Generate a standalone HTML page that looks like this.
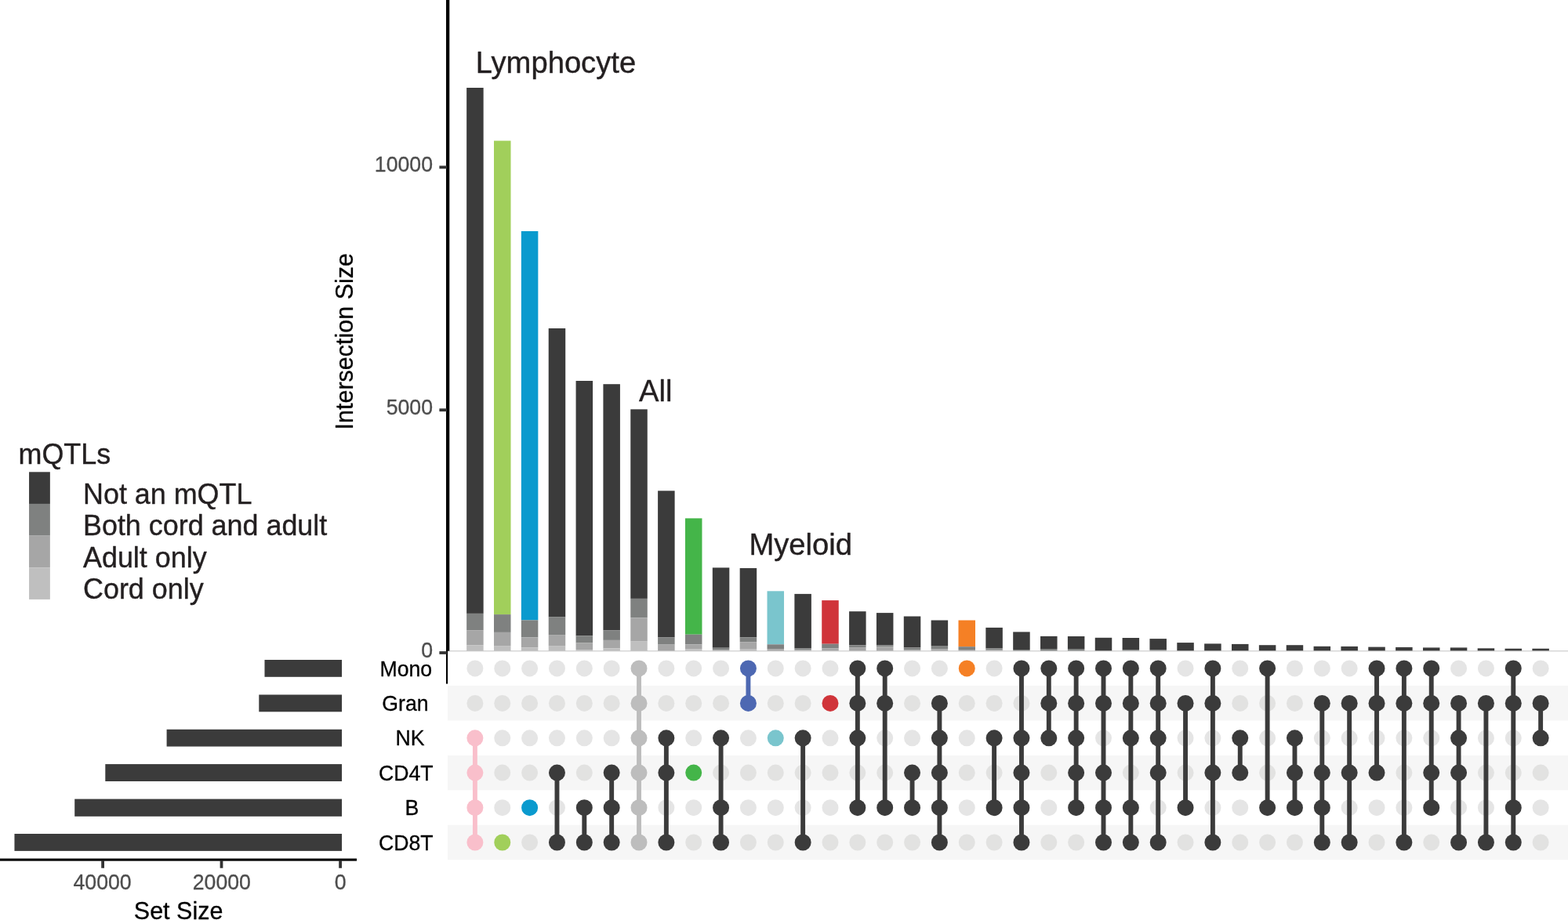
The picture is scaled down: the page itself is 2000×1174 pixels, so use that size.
<!DOCTYPE html>
<html lang="en">
<head>
<meta charset="utf-8">
<title>UpSet plot - intersection sizes by cell type and mQTL status</title>
<style>
html, body { margin: 0; padding: 0; background: #ffffff; }
body { width: 2000px; height: 1174px; overflow: hidden; font-family: "Liberation Sans", Arial, Helvetica, sans-serif; }
svg { display: block; }
</style>
</head>
<body>
<svg role="img" aria-label="UpSet plot of intersection sizes" width="2000" height="1174" viewBox="0 0 2000 1174" font-family='"Liberation Sans", Arial, Helvetica, sans-serif'>
<rect x="0" y="0" width="2000" height="1174" fill="#ffffff"/>
<g id="stripes" fill="#f6f6f6">
<rect x="571" y="875.1" width="1429" height="44.40"/>
<rect x="571" y="964.0" width="1429" height="44.30"/>
<rect x="571" y="1052.8" width="1429" height="44.40"/>
</g>
<g id="bars" shape-rendering="geometricPrecision">
<rect x="595.15" y="112.00" width="21.5" height="670.90" fill="#3b3b3b"/>
<rect x="595.15" y="782.90" width="21.5" height="21.30" fill="#7f8180"/>
<rect x="595.15" y="804.20" width="21.5" height="19.00" fill="#a6a6a6"/>
<rect x="595.15" y="823.20" width="21.5" height="7.60" fill="#bfbfbf"/>
<rect x="630.00" y="179.60" width="21.5" height="604.50" fill="#a1cf5b"/>
<rect x="630.00" y="784.10" width="21.5" height="22.80" fill="#7f8180"/>
<rect x="630.00" y="806.90" width="21.5" height="17.20" fill="#a6a6a6"/>
<rect x="630.00" y="824.10" width="21.5" height="6.70" fill="#bfbfbf"/>
<rect x="664.85" y="295.00" width="21.5" height="496.40" fill="#0a9ace"/>
<rect x="664.85" y="791.40" width="21.5" height="21.90" fill="#7f8180"/>
<rect x="664.85" y="813.30" width="21.5" height="13.00" fill="#a6a6a6"/>
<rect x="664.85" y="826.30" width="21.5" height="4.50" fill="#bfbfbf"/>
<rect x="699.71" y="419.00" width="21.5" height="368.50" fill="#3b3b3b"/>
<rect x="699.71" y="787.50" width="21.5" height="22.60" fill="#7f8180"/>
<rect x="699.71" y="810.10" width="21.5" height="14.00" fill="#a6a6a6"/>
<rect x="699.71" y="824.10" width="21.5" height="6.70" fill="#bfbfbf"/>
<rect x="734.56" y="486.00" width="21.5" height="325.40" fill="#3b3b3b"/>
<rect x="734.56" y="811.40" width="21.5" height="9.10" fill="#7f8180"/>
<rect x="734.56" y="820.50" width="21.5" height="8.70" fill="#a6a6a6"/>
<rect x="734.56" y="829.20" width="21.5" height="1.60" fill="#bfbfbf"/>
<rect x="769.41" y="490.20" width="21.5" height="314.00" fill="#3b3b3b"/>
<rect x="769.41" y="804.20" width="21.5" height="12.70" fill="#7f8180"/>
<rect x="769.41" y="816.90" width="21.5" height="10.40" fill="#a6a6a6"/>
<rect x="769.41" y="827.30" width="21.5" height="3.50" fill="#bfbfbf"/>
<rect x="804.26" y="522.30" width="21.5" height="241.60" fill="#3b3b3b"/>
<rect x="804.26" y="763.90" width="21.5" height="24.40" fill="#7f8180"/>
<rect x="804.26" y="788.30" width="21.5" height="30.30" fill="#a6a6a6"/>
<rect x="804.26" y="818.60" width="21.5" height="12.20" fill="#bfbfbf"/>
<rect x="839.11" y="626.30" width="21.5" height="186.90" fill="#3b3b3b"/>
<rect x="839.11" y="813.20" width="21.5" height="9.40" fill="#7f8180"/>
<rect x="839.11" y="822.60" width="21.5" height="8.20" fill="#a6a6a6"/>
<rect x="873.97" y="661.40" width="21.5" height="148.30" fill="#44b549"/>
<rect x="873.97" y="809.70" width="21.5" height="12.60" fill="#7f8180"/>
<rect x="873.97" y="822.30" width="21.5" height="5.90" fill="#a6a6a6"/>
<rect x="873.97" y="828.20" width="21.5" height="2.60" fill="#bfbfbf"/>
<rect x="908.82" y="724.40" width="21.5" height="102.30" fill="#3b3b3b"/>
<rect x="908.82" y="826.70" width="21.5" height="2.50" fill="#7f8180"/>
<rect x="908.82" y="829.20" width="21.5" height="1.60" fill="#a6a6a6"/>
<rect x="943.67" y="725.00" width="21.5" height="88.40" fill="#3b3b3b"/>
<rect x="943.67" y="813.40" width="21.5" height="5.80" fill="#7f8180"/>
<rect x="943.67" y="819.20" width="21.5" height="8.80" fill="#a6a6a6"/>
<rect x="943.67" y="828.00" width="21.5" height="2.80" fill="#bfbfbf"/>
<rect x="978.52" y="754.30" width="21.5" height="68.00" fill="#7ac5cd"/>
<rect x="978.52" y="822.30" width="21.5" height="5.90" fill="#7f8180"/>
<rect x="978.52" y="828.20" width="21.5" height="2.60" fill="#a6a6a6"/>
<rect x="1013.37" y="757.90" width="21.5" height="69.40" fill="#3b3b3b"/>
<rect x="1013.37" y="827.30" width="21.5" height="2.00" fill="#7f8180"/>
<rect x="1013.37" y="829.30" width="21.5" height="1.50" fill="#a6a6a6"/>
<rect x="1048.23" y="766.10" width="21.5" height="55.60" fill="#d0343a"/>
<rect x="1048.23" y="821.70" width="21.5" height="5.60" fill="#7f8180"/>
<rect x="1048.23" y="827.30" width="21.5" height="3.50" fill="#a6a6a6"/>
<rect x="1083.08" y="780.20" width="21.5" height="43.00" fill="#3b3b3b"/>
<rect x="1083.08" y="823.20" width="21.5" height="2.90" fill="#7f8180"/>
<rect x="1083.08" y="826.10" width="21.5" height="4.70" fill="#a6a6a6"/>
<rect x="1117.93" y="782.10" width="21.5" height="41.10" fill="#3b3b3b"/>
<rect x="1117.93" y="823.20" width="21.5" height="2.30" fill="#7f8180"/>
<rect x="1117.93" y="825.50" width="21.5" height="5.30" fill="#a6a6a6"/>
<rect x="1152.78" y="786.50" width="21.5" height="39.70" fill="#3b3b3b"/>
<rect x="1152.78" y="826.20" width="21.5" height="3.00" fill="#7f8180"/>
<rect x="1152.78" y="829.20" width="21.5" height="1.60" fill="#a6a6a6"/>
<rect x="1187.63" y="791.50" width="21.5" height="32.50" fill="#3b3b3b"/>
<rect x="1187.63" y="824.00" width="21.5" height="4.20" fill="#7f8180"/>
<rect x="1187.63" y="828.20" width="21.5" height="2.60" fill="#a6a6a6"/>
<rect x="1222.49" y="791.50" width="21.5" height="33.70" fill="#f58025"/>
<rect x="1222.49" y="825.20" width="21.5" height="3.80" fill="#7f8180"/>
<rect x="1222.49" y="829.00" width="21.5" height="1.80" fill="#a6a6a6"/>
<rect x="1257.34" y="800.90" width="21.5" height="26.40" fill="#3b3b3b"/>
<rect x="1257.34" y="827.30" width="21.5" height="2.30" fill="#7f8180"/>
<rect x="1257.34" y="829.60" width="21.5" height="1.20" fill="#a6a6a6"/>
<rect x="1292.19" y="806.40" width="21.5" height="22.60" fill="#3b3b3b"/>
<rect x="1292.19" y="829.00" width="21.5" height="1.80" fill="#7f8180"/>
<rect x="1327.04" y="811.90" width="21.5" height="16.10" fill="#3b3b3b"/>
<rect x="1327.04" y="828.00" width="21.5" height="2.80" fill="#7f8180"/>
<rect x="1361.89" y="812.00" width="21.5" height="16.00" fill="#3b3b3b"/>
<rect x="1361.89" y="828.00" width="21.5" height="2.80" fill="#7f8180"/>
<rect x="1396.75" y="813.80" width="21.5" height="17.00" fill="#3b3b3b"/>
<rect x="1431.60" y="814.00" width="21.5" height="15.50" fill="#3b3b3b"/>
<rect x="1431.60" y="829.50" width="21.5" height="1.30" fill="#7f8180"/>
<rect x="1466.45" y="815.10" width="21.5" height="14.10" fill="#3b3b3b"/>
<rect x="1466.45" y="829.20" width="21.5" height="1.60" fill="#7f8180"/>
<rect x="1501.30" y="820.10" width="21.5" height="10.70" fill="#3b3b3b"/>
<rect x="1536.15" y="821.40" width="21.5" height="9.40" fill="#3b3b3b"/>
<rect x="1571.01" y="821.90" width="21.5" height="8.90" fill="#3b3b3b"/>
<rect x="1605.86" y="823.20" width="21.5" height="7.60" fill="#3b3b3b"/>
<rect x="1640.71" y="823.20" width="21.5" height="7.60" fill="#3b3b3b"/>
<rect x="1675.56" y="824.80" width="21.5" height="6.00" fill="#3b3b3b"/>
<rect x="1710.41" y="824.90" width="21.5" height="5.90" fill="#3b3b3b"/>
<rect x="1745.27" y="825.60" width="21.5" height="5.20" fill="#3b3b3b"/>
<rect x="1780.12" y="825.90" width="21.5" height="4.90" fill="#3b3b3b"/>
<rect x="1814.97" y="826.40" width="21.5" height="4.40" fill="#3b3b3b"/>
<rect x="1849.82" y="826.40" width="21.5" height="4.40" fill="#3b3b3b"/>
<rect x="1884.67" y="827.30" width="21.5" height="3.50" fill="#3b3b3b"/>
<rect x="1919.53" y="827.70" width="21.5" height="3.10" fill="#3b3b3b"/>
<rect x="1954.38" y="827.70" width="21.5" height="3.10" fill="#3b3b3b"/>
</g>
<rect x="573" y="830.3" width="1427" height="1" fill="#c4c4c4"/>
<rect x="569" y="0" width="4.3" height="830.7" fill="#000000"/>
<rect x="569" y="830" width="2.1" height="42.6" fill="#000000"/>
<rect x="560.4" y="211.50" width="9.6" height="3.8" fill="#333333"/>
<rect x="560.4" y="521.30" width="9.6" height="3.8" fill="#333333"/>
<rect x="560.4" y="831.10" width="9.6" height="3.8" fill="#333333"/>
<g font-size="26.67" fill="#4d4d4d" stroke="#4d4d4d" stroke-width="0.3" stroke-linejoin="round" text-anchor="end">
<text transform="translate(552 218.9) scale(1 1.02)">10000</text>
<text transform="translate(552 528.8) scale(1 1.02)">5000</text>
<text transform="translate(552 838.9) scale(1 1.02)">0</text>
</g>
<text transform="translate(450.1 435.7) rotate(-90) scale(1 1.015)" font-size="30.5" fill="#000000" stroke="#000000" stroke-width="0.3" stroke-linejoin="round" text-anchor="middle">Intersection Size</text>
<g font-size="38.2" fill="#231f20" stroke="#231f20" stroke-width="0.4" stroke-linejoin="round">
<text transform="translate(606.7 93.1) scale(1 1.015)">Lymphocyte</text>
<text transform="translate(815.1 512.2) scale(1 1.015)">All</text>
<text transform="translate(955.4 708.1) scale(1 1.015)">Myeloid</text>
</g>
<g id="dots-empty">
<circle cx="605.90" cy="852.9" r="10.5" fill="#e5e5e5"/>
<circle cx="605.90" cy="897.45" r="10.5" fill="#e2e2e1"/>
<circle cx="640.75" cy="852.9" r="10.5" fill="#e5e5e5"/>
<circle cx="640.75" cy="897.45" r="10.5" fill="#e2e2e1"/>
<circle cx="640.75" cy="941.8" r="10.5" fill="#e5e5e5"/>
<circle cx="640.75" cy="986.1" r="10.5" fill="#e2e2e1"/>
<circle cx="640.75" cy="1030.65" r="10.5" fill="#e5e5e5"/>
<circle cx="675.60" cy="852.9" r="10.5" fill="#e5e5e5"/>
<circle cx="675.60" cy="897.45" r="10.5" fill="#e2e2e1"/>
<circle cx="675.60" cy="941.8" r="10.5" fill="#e5e5e5"/>
<circle cx="675.60" cy="986.1" r="10.5" fill="#e2e2e1"/>
<circle cx="675.60" cy="1075.0" r="10.5" fill="#e2e2e1"/>
<circle cx="710.46" cy="852.9" r="10.5" fill="#e5e5e5"/>
<circle cx="710.46" cy="897.45" r="10.5" fill="#e2e2e1"/>
<circle cx="710.46" cy="941.8" r="10.5" fill="#e5e5e5"/>
<circle cx="710.46" cy="1030.65" r="10.5" fill="#e5e5e5"/>
<circle cx="745.31" cy="852.9" r="10.5" fill="#e5e5e5"/>
<circle cx="745.31" cy="897.45" r="10.5" fill="#e2e2e1"/>
<circle cx="745.31" cy="941.8" r="10.5" fill="#e5e5e5"/>
<circle cx="745.31" cy="986.1" r="10.5" fill="#e2e2e1"/>
<circle cx="780.16" cy="852.9" r="10.5" fill="#e5e5e5"/>
<circle cx="780.16" cy="897.45" r="10.5" fill="#e2e2e1"/>
<circle cx="780.16" cy="941.8" r="10.5" fill="#e5e5e5"/>
<circle cx="849.86" cy="852.9" r="10.5" fill="#e5e5e5"/>
<circle cx="849.86" cy="897.45" r="10.5" fill="#e2e2e1"/>
<circle cx="849.86" cy="1030.65" r="10.5" fill="#e5e5e5"/>
<circle cx="884.72" cy="852.9" r="10.5" fill="#e5e5e5"/>
<circle cx="884.72" cy="897.45" r="10.5" fill="#e2e2e1"/>
<circle cx="884.72" cy="941.8" r="10.5" fill="#e5e5e5"/>
<circle cx="884.72" cy="1030.65" r="10.5" fill="#e5e5e5"/>
<circle cx="884.72" cy="1075.0" r="10.5" fill="#e2e2e1"/>
<circle cx="919.57" cy="852.9" r="10.5" fill="#e5e5e5"/>
<circle cx="919.57" cy="897.45" r="10.5" fill="#e2e2e1"/>
<circle cx="919.57" cy="986.1" r="10.5" fill="#e2e2e1"/>
<circle cx="954.42" cy="941.8" r="10.5" fill="#e5e5e5"/>
<circle cx="954.42" cy="986.1" r="10.5" fill="#e2e2e1"/>
<circle cx="954.42" cy="1030.65" r="10.5" fill="#e5e5e5"/>
<circle cx="954.42" cy="1075.0" r="10.5" fill="#e2e2e1"/>
<circle cx="989.27" cy="852.9" r="10.5" fill="#e5e5e5"/>
<circle cx="989.27" cy="897.45" r="10.5" fill="#e2e2e1"/>
<circle cx="989.27" cy="986.1" r="10.5" fill="#e2e2e1"/>
<circle cx="989.27" cy="1030.65" r="10.5" fill="#e5e5e5"/>
<circle cx="989.27" cy="1075.0" r="10.5" fill="#e2e2e1"/>
<circle cx="1024.12" cy="852.9" r="10.5" fill="#e5e5e5"/>
<circle cx="1024.12" cy="897.45" r="10.5" fill="#e2e2e1"/>
<circle cx="1024.12" cy="986.1" r="10.5" fill="#e2e2e1"/>
<circle cx="1024.12" cy="1030.65" r="10.5" fill="#e5e5e5"/>
<circle cx="1058.98" cy="852.9" r="10.5" fill="#e5e5e5"/>
<circle cx="1058.98" cy="941.8" r="10.5" fill="#e5e5e5"/>
<circle cx="1058.98" cy="986.1" r="10.5" fill="#e2e2e1"/>
<circle cx="1058.98" cy="1030.65" r="10.5" fill="#e5e5e5"/>
<circle cx="1058.98" cy="1075.0" r="10.5" fill="#e2e2e1"/>
<circle cx="1093.83" cy="986.1" r="10.5" fill="#e2e2e1"/>
<circle cx="1093.83" cy="1075.0" r="10.5" fill="#e2e2e1"/>
<circle cx="1128.68" cy="941.8" r="10.5" fill="#e5e5e5"/>
<circle cx="1128.68" cy="986.1" r="10.5" fill="#e2e2e1"/>
<circle cx="1128.68" cy="1075.0" r="10.5" fill="#e2e2e1"/>
<circle cx="1163.53" cy="852.9" r="10.5" fill="#e5e5e5"/>
<circle cx="1163.53" cy="897.45" r="10.5" fill="#e2e2e1"/>
<circle cx="1163.53" cy="941.8" r="10.5" fill="#e5e5e5"/>
<circle cx="1163.53" cy="1075.0" r="10.5" fill="#e2e2e1"/>
<circle cx="1198.38" cy="852.9" r="10.5" fill="#e5e5e5"/>
<circle cx="1233.24" cy="897.45" r="10.5" fill="#e2e2e1"/>
<circle cx="1233.24" cy="941.8" r="10.5" fill="#e5e5e5"/>
<circle cx="1233.24" cy="986.1" r="10.5" fill="#e2e2e1"/>
<circle cx="1233.24" cy="1030.65" r="10.5" fill="#e5e5e5"/>
<circle cx="1233.24" cy="1075.0" r="10.5" fill="#e2e2e1"/>
<circle cx="1268.09" cy="852.9" r="10.5" fill="#e5e5e5"/>
<circle cx="1268.09" cy="897.45" r="10.5" fill="#e2e2e1"/>
<circle cx="1268.09" cy="986.1" r="10.5" fill="#e2e2e1"/>
<circle cx="1268.09" cy="1075.0" r="10.5" fill="#e2e2e1"/>
<circle cx="1302.94" cy="897.45" r="10.5" fill="#e2e2e1"/>
<circle cx="1337.79" cy="986.1" r="10.5" fill="#e2e2e1"/>
<circle cx="1337.79" cy="1030.65" r="10.5" fill="#e5e5e5"/>
<circle cx="1337.79" cy="1075.0" r="10.5" fill="#e2e2e1"/>
<circle cx="1372.64" cy="1075.0" r="10.5" fill="#e2e2e1"/>
<circle cx="1407.50" cy="941.8" r="10.5" fill="#e5e5e5"/>
<circle cx="1442.35" cy="986.1" r="10.5" fill="#e2e2e1"/>
<circle cx="1477.20" cy="1030.65" r="10.5" fill="#e5e5e5"/>
<circle cx="1512.05" cy="852.9" r="10.5" fill="#e5e5e5"/>
<circle cx="1512.05" cy="941.8" r="10.5" fill="#e5e5e5"/>
<circle cx="1512.05" cy="986.1" r="10.5" fill="#e2e2e1"/>
<circle cx="1512.05" cy="1075.0" r="10.5" fill="#e2e2e1"/>
<circle cx="1546.90" cy="941.8" r="10.5" fill="#e5e5e5"/>
<circle cx="1546.90" cy="1030.65" r="10.5" fill="#e5e5e5"/>
<circle cx="1581.76" cy="852.9" r="10.5" fill="#e5e5e5"/>
<circle cx="1581.76" cy="897.45" r="10.5" fill="#e2e2e1"/>
<circle cx="1581.76" cy="1030.65" r="10.5" fill="#e5e5e5"/>
<circle cx="1581.76" cy="1075.0" r="10.5" fill="#e2e2e1"/>
<circle cx="1616.61" cy="897.45" r="10.5" fill="#e2e2e1"/>
<circle cx="1616.61" cy="941.8" r="10.5" fill="#e5e5e5"/>
<circle cx="1616.61" cy="986.1" r="10.5" fill="#e2e2e1"/>
<circle cx="1616.61" cy="1075.0" r="10.5" fill="#e2e2e1"/>
<circle cx="1651.46" cy="852.9" r="10.5" fill="#e5e5e5"/>
<circle cx="1651.46" cy="897.45" r="10.5" fill="#e2e2e1"/>
<circle cx="1651.46" cy="1075.0" r="10.5" fill="#e2e2e1"/>
<circle cx="1686.31" cy="852.9" r="10.5" fill="#e5e5e5"/>
<circle cx="1686.31" cy="941.8" r="10.5" fill="#e5e5e5"/>
<circle cx="1721.16" cy="852.9" r="10.5" fill="#e5e5e5"/>
<circle cx="1721.16" cy="941.8" r="10.5" fill="#e5e5e5"/>
<circle cx="1721.16" cy="1030.65" r="10.5" fill="#e5e5e5"/>
<circle cx="1756.02" cy="941.8" r="10.5" fill="#e5e5e5"/>
<circle cx="1756.02" cy="1030.65" r="10.5" fill="#e5e5e5"/>
<circle cx="1756.02" cy="1075.0" r="10.5" fill="#e2e2e1"/>
<circle cx="1790.87" cy="941.8" r="10.5" fill="#e5e5e5"/>
<circle cx="1790.87" cy="986.1" r="10.5" fill="#e2e2e1"/>
<circle cx="1790.87" cy="1030.65" r="10.5" fill="#e5e5e5"/>
<circle cx="1825.72" cy="941.8" r="10.5" fill="#e5e5e5"/>
<circle cx="1825.72" cy="1075.0" r="10.5" fill="#e2e2e1"/>
<circle cx="1860.57" cy="852.9" r="10.5" fill="#e5e5e5"/>
<circle cx="1860.57" cy="1030.65" r="10.5" fill="#e5e5e5"/>
<circle cx="1895.42" cy="852.9" r="10.5" fill="#e5e5e5"/>
<circle cx="1895.42" cy="941.8" r="10.5" fill="#e5e5e5"/>
<circle cx="1895.42" cy="986.1" r="10.5" fill="#e2e2e1"/>
<circle cx="1895.42" cy="1030.65" r="10.5" fill="#e5e5e5"/>
<circle cx="1930.28" cy="941.8" r="10.5" fill="#e5e5e5"/>
<circle cx="1930.28" cy="986.1" r="10.5" fill="#e2e2e1"/>
<circle cx="1965.13" cy="852.9" r="10.5" fill="#e5e5e5"/>
<circle cx="1965.13" cy="986.1" r="10.5" fill="#e2e2e1"/>
<circle cx="1965.13" cy="1030.65" r="10.5" fill="#e5e5e5"/>
<circle cx="1965.13" cy="1075.0" r="10.5" fill="#e2e2e1"/>
</g>
<g id="dots-on">
<rect x="602.95" y="941.8" width="5.9" height="133.20" fill="#f9bfcb"/>
<circle cx="605.90" cy="941.8" r="10.5" fill="#f9bfcb"/>
<circle cx="605.90" cy="986.1" r="10.5" fill="#f9bfcb"/>
<circle cx="605.90" cy="1030.65" r="10.5" fill="#f9bfcb"/>
<circle cx="605.90" cy="1075.0" r="10.5" fill="#f9bfcb"/>
<circle cx="640.75" cy="1075.0" r="10.5" fill="#a1cf5b"/>
<circle cx="675.60" cy="1030.65" r="10.5" fill="#0a9ace"/>
<rect x="707.51" y="986.1" width="5.9" height="88.90" fill="#3b3b3b"/>
<circle cx="710.46" cy="986.1" r="10.5" fill="#3b3b3b"/>
<circle cx="710.46" cy="1075.0" r="10.5" fill="#3b3b3b"/>
<rect x="742.36" y="1030.65" width="5.9" height="44.35" fill="#3b3b3b"/>
<circle cx="745.31" cy="1030.65" r="10.5" fill="#3b3b3b"/>
<circle cx="745.31" cy="1075.0" r="10.5" fill="#3b3b3b"/>
<rect x="777.21" y="986.1" width="5.9" height="88.90" fill="#3b3b3b"/>
<circle cx="780.16" cy="986.1" r="10.5" fill="#3b3b3b"/>
<circle cx="780.16" cy="1030.65" r="10.5" fill="#3b3b3b"/>
<circle cx="780.16" cy="1075.0" r="10.5" fill="#3b3b3b"/>
<rect x="812.06" y="852.9" width="5.9" height="222.10" fill="#bdbdbd"/>
<circle cx="815.01" cy="852.9" r="10.5" fill="#bdbdbd"/>
<circle cx="815.01" cy="897.45" r="10.5" fill="#bdbdbd"/>
<circle cx="815.01" cy="941.8" r="10.5" fill="#bdbdbd"/>
<circle cx="815.01" cy="986.1" r="10.5" fill="#bdbdbd"/>
<circle cx="815.01" cy="1030.65" r="10.5" fill="#bdbdbd"/>
<circle cx="815.01" cy="1075.0" r="10.5" fill="#bdbdbd"/>
<rect x="846.91" y="941.8" width="5.9" height="133.20" fill="#3b3b3b"/>
<circle cx="849.86" cy="941.8" r="10.5" fill="#3b3b3b"/>
<circle cx="849.86" cy="986.1" r="10.5" fill="#3b3b3b"/>
<circle cx="849.86" cy="1075.0" r="10.5" fill="#3b3b3b"/>
<circle cx="884.72" cy="986.1" r="10.5" fill="#44b549"/>
<rect x="916.62" y="941.8" width="5.9" height="133.20" fill="#3b3b3b"/>
<circle cx="919.57" cy="941.8" r="10.5" fill="#3b3b3b"/>
<circle cx="919.57" cy="1030.65" r="10.5" fill="#3b3b3b"/>
<circle cx="919.57" cy="1075.0" r="10.5" fill="#3b3b3b"/>
<rect x="951.47" y="852.9" width="5.9" height="44.55" fill="#4d68b2"/>
<circle cx="954.42" cy="852.9" r="10.5" fill="#4d68b2"/>
<circle cx="954.42" cy="897.45" r="10.5" fill="#4d68b2"/>
<circle cx="989.27" cy="941.8" r="10.5" fill="#7ac5cd"/>
<rect x="1021.17" y="941.8" width="5.9" height="133.20" fill="#3b3b3b"/>
<circle cx="1024.12" cy="941.8" r="10.5" fill="#3b3b3b"/>
<circle cx="1024.12" cy="1075.0" r="10.5" fill="#3b3b3b"/>
<circle cx="1058.98" cy="897.45" r="10.5" fill="#d0343a"/>
<rect x="1090.88" y="852.9" width="5.9" height="177.75" fill="#3b3b3b"/>
<circle cx="1093.83" cy="852.9" r="10.5" fill="#3b3b3b"/>
<circle cx="1093.83" cy="897.45" r="10.5" fill="#3b3b3b"/>
<circle cx="1093.83" cy="941.8" r="10.5" fill="#3b3b3b"/>
<circle cx="1093.83" cy="1030.65" r="10.5" fill="#3b3b3b"/>
<rect x="1125.73" y="852.9" width="5.9" height="177.75" fill="#3b3b3b"/>
<circle cx="1128.68" cy="852.9" r="10.5" fill="#3b3b3b"/>
<circle cx="1128.68" cy="897.45" r="10.5" fill="#3b3b3b"/>
<circle cx="1128.68" cy="1030.65" r="10.5" fill="#3b3b3b"/>
<rect x="1160.58" y="986.1" width="5.9" height="44.55" fill="#3b3b3b"/>
<circle cx="1163.53" cy="986.1" r="10.5" fill="#3b3b3b"/>
<circle cx="1163.53" cy="1030.65" r="10.5" fill="#3b3b3b"/>
<rect x="1195.43" y="897.45" width="5.9" height="177.55" fill="#3b3b3b"/>
<circle cx="1198.38" cy="897.45" r="10.5" fill="#3b3b3b"/>
<circle cx="1198.38" cy="941.8" r="10.5" fill="#3b3b3b"/>
<circle cx="1198.38" cy="986.1" r="10.5" fill="#3b3b3b"/>
<circle cx="1198.38" cy="1030.65" r="10.5" fill="#3b3b3b"/>
<circle cx="1198.38" cy="1075.0" r="10.5" fill="#3b3b3b"/>
<circle cx="1233.24" cy="852.9" r="10.5" fill="#f58025"/>
<rect x="1265.14" y="941.8" width="5.9" height="88.85" fill="#3b3b3b"/>
<circle cx="1268.09" cy="941.8" r="10.5" fill="#3b3b3b"/>
<circle cx="1268.09" cy="1030.65" r="10.5" fill="#3b3b3b"/>
<rect x="1299.99" y="852.9" width="5.9" height="222.10" fill="#3b3b3b"/>
<circle cx="1302.94" cy="852.9" r="10.5" fill="#3b3b3b"/>
<circle cx="1302.94" cy="941.8" r="10.5" fill="#3b3b3b"/>
<circle cx="1302.94" cy="986.1" r="10.5" fill="#3b3b3b"/>
<circle cx="1302.94" cy="1030.65" r="10.5" fill="#3b3b3b"/>
<circle cx="1302.94" cy="1075.0" r="10.5" fill="#3b3b3b"/>
<rect x="1334.84" y="852.9" width="5.9" height="88.90" fill="#3b3b3b"/>
<circle cx="1337.79" cy="852.9" r="10.5" fill="#3b3b3b"/>
<circle cx="1337.79" cy="897.45" r="10.5" fill="#3b3b3b"/>
<circle cx="1337.79" cy="941.8" r="10.5" fill="#3b3b3b"/>
<rect x="1369.69" y="852.9" width="5.9" height="177.75" fill="#3b3b3b"/>
<circle cx="1372.64" cy="852.9" r="10.5" fill="#3b3b3b"/>
<circle cx="1372.64" cy="897.45" r="10.5" fill="#3b3b3b"/>
<circle cx="1372.64" cy="941.8" r="10.5" fill="#3b3b3b"/>
<circle cx="1372.64" cy="986.1" r="10.5" fill="#3b3b3b"/>
<circle cx="1372.64" cy="1030.65" r="10.5" fill="#3b3b3b"/>
<rect x="1404.55" y="852.9" width="5.9" height="222.10" fill="#3b3b3b"/>
<circle cx="1407.50" cy="852.9" r="10.5" fill="#3b3b3b"/>
<circle cx="1407.50" cy="897.45" r="10.5" fill="#3b3b3b"/>
<circle cx="1407.50" cy="986.1" r="10.5" fill="#3b3b3b"/>
<circle cx="1407.50" cy="1030.65" r="10.5" fill="#3b3b3b"/>
<circle cx="1407.50" cy="1075.0" r="10.5" fill="#3b3b3b"/>
<rect x="1439.40" y="852.9" width="5.9" height="222.10" fill="#3b3b3b"/>
<circle cx="1442.35" cy="852.9" r="10.5" fill="#3b3b3b"/>
<circle cx="1442.35" cy="897.45" r="10.5" fill="#3b3b3b"/>
<circle cx="1442.35" cy="941.8" r="10.5" fill="#3b3b3b"/>
<circle cx="1442.35" cy="1030.65" r="10.5" fill="#3b3b3b"/>
<circle cx="1442.35" cy="1075.0" r="10.5" fill="#3b3b3b"/>
<rect x="1474.25" y="852.9" width="5.9" height="222.10" fill="#3b3b3b"/>
<circle cx="1477.20" cy="852.9" r="10.5" fill="#3b3b3b"/>
<circle cx="1477.20" cy="897.45" r="10.5" fill="#3b3b3b"/>
<circle cx="1477.20" cy="941.8" r="10.5" fill="#3b3b3b"/>
<circle cx="1477.20" cy="986.1" r="10.5" fill="#3b3b3b"/>
<circle cx="1477.20" cy="1075.0" r="10.5" fill="#3b3b3b"/>
<rect x="1509.10" y="897.45" width="5.9" height="133.20" fill="#3b3b3b"/>
<circle cx="1512.05" cy="897.45" r="10.5" fill="#3b3b3b"/>
<circle cx="1512.05" cy="1030.65" r="10.5" fill="#3b3b3b"/>
<rect x="1543.95" y="852.9" width="5.9" height="222.10" fill="#3b3b3b"/>
<circle cx="1546.90" cy="852.9" r="10.5" fill="#3b3b3b"/>
<circle cx="1546.90" cy="897.45" r="10.5" fill="#3b3b3b"/>
<circle cx="1546.90" cy="986.1" r="10.5" fill="#3b3b3b"/>
<circle cx="1546.90" cy="1075.0" r="10.5" fill="#3b3b3b"/>
<rect x="1578.81" y="941.8" width="5.9" height="44.30" fill="#3b3b3b"/>
<circle cx="1581.76" cy="941.8" r="10.5" fill="#3b3b3b"/>
<circle cx="1581.76" cy="986.1" r="10.5" fill="#3b3b3b"/>
<rect x="1613.66" y="852.9" width="5.9" height="177.75" fill="#3b3b3b"/>
<circle cx="1616.61" cy="852.9" r="10.5" fill="#3b3b3b"/>
<circle cx="1616.61" cy="1030.65" r="10.5" fill="#3b3b3b"/>
<rect x="1648.51" y="941.8" width="5.9" height="88.85" fill="#3b3b3b"/>
<circle cx="1651.46" cy="941.8" r="10.5" fill="#3b3b3b"/>
<circle cx="1651.46" cy="986.1" r="10.5" fill="#3b3b3b"/>
<circle cx="1651.46" cy="1030.65" r="10.5" fill="#3b3b3b"/>
<rect x="1683.36" y="897.45" width="5.9" height="177.55" fill="#3b3b3b"/>
<circle cx="1686.31" cy="897.45" r="10.5" fill="#3b3b3b"/>
<circle cx="1686.31" cy="986.1" r="10.5" fill="#3b3b3b"/>
<circle cx="1686.31" cy="1030.65" r="10.5" fill="#3b3b3b"/>
<circle cx="1686.31" cy="1075.0" r="10.5" fill="#3b3b3b"/>
<rect x="1718.21" y="897.45" width="5.9" height="177.55" fill="#3b3b3b"/>
<circle cx="1721.16" cy="897.45" r="10.5" fill="#3b3b3b"/>
<circle cx="1721.16" cy="986.1" r="10.5" fill="#3b3b3b"/>
<circle cx="1721.16" cy="1075.0" r="10.5" fill="#3b3b3b"/>
<rect x="1753.07" y="852.9" width="5.9" height="133.20" fill="#3b3b3b"/>
<circle cx="1756.02" cy="852.9" r="10.5" fill="#3b3b3b"/>
<circle cx="1756.02" cy="897.45" r="10.5" fill="#3b3b3b"/>
<circle cx="1756.02" cy="986.1" r="10.5" fill="#3b3b3b"/>
<rect x="1787.92" y="852.9" width="5.9" height="222.10" fill="#3b3b3b"/>
<circle cx="1790.87" cy="852.9" r="10.5" fill="#3b3b3b"/>
<circle cx="1790.87" cy="897.45" r="10.5" fill="#3b3b3b"/>
<circle cx="1790.87" cy="1075.0" r="10.5" fill="#3b3b3b"/>
<rect x="1822.77" y="852.9" width="5.9" height="177.75" fill="#3b3b3b"/>
<circle cx="1825.72" cy="852.9" r="10.5" fill="#3b3b3b"/>
<circle cx="1825.72" cy="897.45" r="10.5" fill="#3b3b3b"/>
<circle cx="1825.72" cy="986.1" r="10.5" fill="#3b3b3b"/>
<circle cx="1825.72" cy="1030.65" r="10.5" fill="#3b3b3b"/>
<rect x="1857.62" y="897.45" width="5.9" height="177.55" fill="#3b3b3b"/>
<circle cx="1860.57" cy="897.45" r="10.5" fill="#3b3b3b"/>
<circle cx="1860.57" cy="941.8" r="10.5" fill="#3b3b3b"/>
<circle cx="1860.57" cy="986.1" r="10.5" fill="#3b3b3b"/>
<circle cx="1860.57" cy="1075.0" r="10.5" fill="#3b3b3b"/>
<rect x="1892.47" y="897.45" width="5.9" height="177.55" fill="#3b3b3b"/>
<circle cx="1895.42" cy="897.45" r="10.5" fill="#3b3b3b"/>
<circle cx="1895.42" cy="1075.0" r="10.5" fill="#3b3b3b"/>
<rect x="1927.33" y="852.9" width="5.9" height="222.10" fill="#3b3b3b"/>
<circle cx="1930.28" cy="852.9" r="10.5" fill="#3b3b3b"/>
<circle cx="1930.28" cy="897.45" r="10.5" fill="#3b3b3b"/>
<circle cx="1930.28" cy="1030.65" r="10.5" fill="#3b3b3b"/>
<circle cx="1930.28" cy="1075.0" r="10.5" fill="#3b3b3b"/>
<rect x="1962.18" y="897.45" width="5.9" height="44.35" fill="#3b3b3b"/>
<circle cx="1965.13" cy="897.45" r="10.5" fill="#3b3b3b"/>
<circle cx="1965.13" cy="941.8" r="10.5" fill="#3b3b3b"/>
</g>
<g font-size="26.67" fill="#000000" stroke="#000000" stroke-width="0.3" stroke-linejoin="round" text-anchor="middle">
<text transform="translate(517.8 862.6) scale(1 1.015)">Mono</text>
<text transform="translate(517.0 906.9) scale(1 1.015)">Gran</text>
<text transform="translate(522.9 951.0) scale(1 1.03)">NK</text>
<text transform="translate(517.7 995.6) scale(1 1.03)">CD4T</text>
<text transform="translate(525.3 1039.6) scale(1 1.03)">B</text>
<text transform="translate(517.7 1084.5) scale(1 1.03)">CD8T</text>
</g>
<g id="setbars" fill="#3b3b3b">
<rect x="337.5" y="842.0" width="98.55" height="21.80"/>
<rect x="330.3" y="886.5" width="105.75" height="21.80"/>
<rect x="212.6" y="930.8" width="223.45" height="21.80"/>
<rect x="134.3" y="975.1" width="301.75" height="21.90"/>
<rect x="95.2" y="1019.6" width="340.85" height="22.20"/>
<rect x="18.45" y="1064.0" width="417.60" height="21.90"/>
</g>
<rect x="0" y="1095.55" width="455" height="3.1" fill="#000000"/>
<rect x="129.20" y="1098" width="3.8" height="9.75" fill="#333333"/>
<rect x="280.60" y="1098" width="3.8" height="9.75" fill="#333333"/>
<rect x="432.20" y="1098" width="3.8" height="9.75" fill="#333333"/>
<g font-size="26.67" fill="#4d4d4d" stroke="#4d4d4d" stroke-width="0.3" stroke-linejoin="round" text-anchor="middle">
<text transform="translate(130.6 1135.2) scale(1 1.02)">40000</text>
<text transform="translate(282.8 1135.2) scale(1 1.02)">20000</text>
<text transform="translate(434.25 1135.2) scale(1 1.02)">0</text>
</g>
<text transform="translate(227.6 1172.8) scale(1 1.015)" font-size="30.5" fill="#000000" stroke="#000000" stroke-width="0.3" stroke-linejoin="round" text-anchor="middle">Set Size</text>
<text transform="translate(23.5 591.9) scale(1 1.03)" font-size="35.9" fill="#231f20" stroke="#231f20" stroke-width="0.4" stroke-linejoin="round">mQTLs</text>
<rect x="37.05" y="602.30" width="26.8" height="40.65" fill="#3b3b3b"/>
<rect x="37.05" y="642.95" width="26.8" height="40.65" fill="#7f8180"/>
<rect x="37.05" y="683.60" width="26.8" height="40.65" fill="#a6a6a6"/>
<rect x="37.05" y="724.25" width="26.8" height="40.65" fill="#bfbfbf"/>
<g font-size="35.9" fill="#231f20" stroke="#231f20" stroke-width="0.4" stroke-linejoin="round">
<text transform="translate(106 642.9) scale(1 1.02)">Not an mQTL</text>
<text transform="translate(106 683.1) scale(1 1.02)">Both cord and adult</text>
<text transform="translate(106 724.1) scale(1 1.02)">Adult only</text>
<text transform="translate(106 764.2) scale(1 1.02)">Cord only</text>
</g>
</svg>
</body>
</html>
